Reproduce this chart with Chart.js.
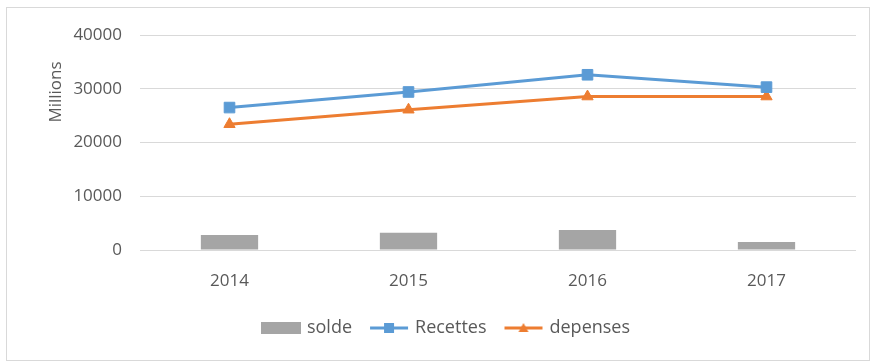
<!DOCTYPE html>
<html>
<head>
<meta charset="utf-8">
<script src="https://cdn.jsdelivr.net/npm/chart.js@4/dist/chart.umd.min.js"></script>
<style>
    html, body { margin: 0; padding: 0; background: #fff; }
    #wrap { position: relative; width: 873px; height: 364px; }
</style>
</head>
<body>
<div id="wrap"><canvas id="chart" width="873" height="364"></canvas></div>
<script>
const years = ['2014', '2015', '2016', '2017'];
const solde = [2800, 3200, 3700, 1500];
const recettes = [26500, 29400, 32600, 30300];
const depenses = [23400, 26100, 28550, 28550];
const yTicks = [0, 10000, 20000, 30000, 40000];

const GREY = '#A5A5A5';
const BLUE = '#5B9BD5';
const ORANGE = '#ED7D31';
const TEXT = '#595959';
const FONT = '"Open Sans", "Liberation Sans", sans-serif';

// small legend icons: a filled bar, and line + marker samples
function makeIcon(color, marker) {
    const c = document.createElement('canvas');
    c.width = 42;
    c.height = 14;
    const g = c.getContext('2d');
    g.fillStyle = color;
    if (!marker) {
        g.fillRect(1, 1, 40, 12);
        return c;
    }
    g.strokeStyle = color;
    g.lineWidth = 3;
    g.beginPath();
    g.moveTo(2, 7);
    g.lineTo(40, 7);
    g.stroke();
    g.beginPath();
    if (marker === 'square') {
        g.rect(16, 2, 10, 10);
    } else {
        g.moveTo(21, 2);
        g.lineTo(26, 11);
        g.lineTo(16, 11);
        g.closePath();
    }
    g.fill();
    return c;
}
const legendIcons = [makeIcon(GREY), makeIcon(BLUE, 'square'), makeIcon(ORANGE, 'triangle')];

// outer frame and the "Millions" display-unit label
const framePlugin = {
    id: 'frame',
    beforeDraw(chart) {
        const ctx = chart.ctx;
        ctx.save();
        ctx.strokeStyle = '#d9d9d9';
        ctx.lineWidth = 1;
        ctx.strokeRect(6.5, 7.5, 863, 353);
        ctx.restore();
    },
    afterDraw(chart) {
        const ctx = chart.ctx;
        const area = chart.chartArea;
        ctx.save();
        ctx.translate(area.left - 84, area.top + 57);
        ctx.rotate(-Math.PI / 2);
        ctx.fillStyle = TEXT;
        ctx.font = '17px ' + FONT;
        ctx.textAlign = 'center';
        ctx.textBaseline = 'middle';
        ctx.fillText('Millions', 0, 0);
        ctx.restore();
    },
};

Chart.defaults.font.family = FONT;
Chart.defaults.font.size = 16;
Chart.defaults.color = TEXT;

new Chart(document.getElementById('chart'), {
    type: 'bar',
    data: {
        labels: years,
        datasets: [
            {
                type: 'bar',
                label: 'solde',
                data: solde,
                backgroundColor: GREY,
                borderWidth: 0,
                categoryPercentage: 1,
                barPercentage: 0.32,
                order: 3,
            },
            {
                type: 'line',
                label: 'Recettes',
                data: recettes,
                borderColor: BLUE,
                backgroundColor: BLUE,
                borderWidth: 3,
                pointStyle: 'rect',
                pointRadius: 7.5,
                pointBorderWidth: 1,
                tension: 0,
                order: 1,
            },
            {
                type: 'line',
                label: 'depenses',
                data: depenses,
                borderColor: ORANGE,
                backgroundColor: ORANGE,
                borderWidth: 3,
                pointStyle: 'triangle',
                pointRadius: 6.5,
                pointBorderWidth: 1,
                tension: 0,
                order: 2,
            },
        ],
    },
    options: {
        responsive: false,
        animation: false,
        layout: {
            padding: { top: 35, right: 17, bottom: 17, left: 38 },
        },
        plugins: {
            tooltip: { enabled: false },
            legend: {
                position: 'bottom',
                labels: {
                    usePointStyle: true,
                    pointStyleWidth: 34,
                    boxHeight: 14,
                    padding: 20,
                    font: { size: 18 },
                    color: TEXT,
                    sort: (a, b) => a.datasetIndex - b.datasetIndex,
                    generateLabels(chart) {
                        const items = Chart.defaults.plugins.legend.labels.generateLabels(chart);
                        items.forEach((item) => {
                            item.pointStyle = legendIcons[item.datasetIndex];
                        });
                        return items;
                    },
                },
            },
        },
        scales: {
            x: {
                grid: { display: false, drawTicks: false },
                border: { display: false },
                ticks: { padding: 21, font: { size: 17 } },
                afterFit(scale) {
                    scale.height = 49;
                },
            },
            y: {
                min: 0,
                max: 40000,
                afterBuildTicks(scale) {
                    scale.ticks = yTicks.map((v) => ({ value: v }));
                },
                grid: { color: '#d9d9d9', lineWidth: 1, drawTicks: false },
                border: { display: false },
                ticks: {
                    padding: 18,
                    font: { size: 17 },
                    callback: (v) => String(v),
                },
                afterFit(scale) {
                    scale.width = 102;
                },
            },
        },
    },
    plugins: [framePlugin],
});
</script>
</body>
</html>
